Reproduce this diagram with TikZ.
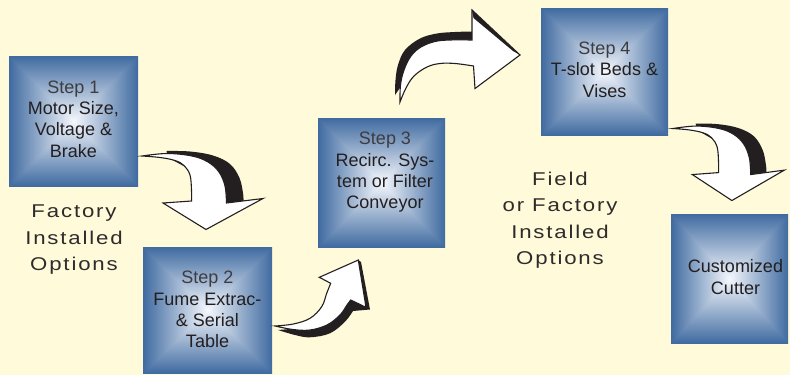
\documentclass[tikz,border=0pt]{standalone}
\usepackage{fontspec}
\setmainfont{Liberation Sans}
\newfontfamily\boxfont{Liberation Sans}
\newfontfamily\widefont[FakeStretch=1.2,LetterSpace=10]{Liberation Sans}
\definecolor{bgcream}{RGB}{255,250,217}
\definecolor{inkblack}{RGB}{35,31,32}
\definecolor{boxtext}{RGB}{35,31,32}
\definecolor{steptext}{RGB}{62,60,62}
\definecolor{labeltext}{RGB}{45,43,44}
\pgfdeclarefunctionalshading{pyramid}{\pgfpoint{-50bp}{-50bp}}{\pgfpoint{50bp}{50bp}}{}{
abs exch abs 2 copy lt {exch} if pop 25 div dup 1 gt {pop 1} if
dup dup -0.71 mul 0.96 add 3 1 roll -0.55 mul 0.97 add exch -0.36 mul 0.99 add
}
\tikzset{
  stepbox/.style={shade, shading=pyramid, draw=none, inner sep=0pt, outer sep=0pt},
  boxlabel/.style={align=center, text=boxtext, inner sep=0pt, font=\boxfont\fontsize{18}{21.3}\selectfont},
  sidelabel/.style={align=center, text=labeltext, inner sep=0pt, font=\widefont\fontsize{18.5}{26.5}\selectfont},
  arrowshadow/.style={fill=inkblack},
  arrowbody/.style={fill=white, draw=inkblack, line width=1.1pt, line join=miter},
  pics/bendarrow/.style={code={
    \fill[arrowshadow] plot[smooth,tension=0.6] coordinates {(24.7,-5) (48,-4.5) (71,-0.5) (88,8) (97.5,22) (101,37) (101.5,45)} -- (84,47) -- (60,20) -- (25,1) -- cycle;
    \filldraw[arrowbody] plot[smooth,tension=0.6] coordinates {(0,0) (25,-2.5) (50,0) (66,6) (77,16) (83,30) (84.5,47)} -- (121,42.5) -- (64,73.5) -- (21,47) -- plot[smooth,tension=0.6] coordinates {(49.5,45) (49.5,34) (48,19) (42,9.5) (33,4.5) (18,1.5) (0,0)} -- cycle;
  }}
}
\newcommand{\stepword}[1]{\textcolor{steptext}{#1}}
\begin{document}
\begin{tikzpicture}[x=1pt,y=-1pt]
\useasboundingbox (0,0) rectangle (790,375);
\fill[bgcream] (0,0) rectangle (790,375);

% boxes
\node[stepbox, minimum width=129pt, minimum height=130pt] (s1) at (73.5,121) {};
\node[stepbox, minimum width=129pt, minimum height=126pt] (s2) at (207.5,310) {};
\node[stepbox, minimum width=127pt, minimum height=129pt] (s3) at (381.5,182.5) {};
\node[stepbox, minimum width=127pt, minimum height=127pt] (s4) at (604.5,71.5) {};
\node[stepbox, minimum width=117pt, minimum height=129pt] (s5) at (729.5,278.5) {};

% curved arrows
\pic (a1) at (142,156) {bendarrow};
\pic[xscale=0.92, yscale=0.98] (a5) at (673,128.5) {bendarrow};

% box 2 -> box 3
\fill[arrowshadow] plot[smooth,tension=0.6] coordinates {(278,330) (295,335) (310,337.3) (330,333.3) (345,321.7) (353,311)} -- (370,309.5) -- (361,262) -- (358.3,260) -- (345,290) -- (320,320) -- (290,329) -- cycle;
\filldraw[arrowbody] plot[smooth,tension=0.6] coordinates {(275,326) (293,329.5) (310,330) (327,325) (340,315) (347,305) (350.7,300)} -- (366,307.3) -- (358.3,260) -- (319.3,277.3) -- plot[smooth,tension=0.6] coordinates {(330.7,283.3) (326.7,293.3) (321.7,306.7) (310,318.3) (293.3,324) (275,326)} -- cycle;

% box 3 -> box 4
\fill[arrowshadow] plot[smooth,tension=0.6] coordinates {(395,95) (395.5,80) (398,65) (405,50) (420,38.5) (437,33.5) (455,32) (472,31.5)} -- (472,45) -- (440,47) -- (420,53) -- (409,65) -- (402,85) -- cycle;
\filldraw[arrowbody] plot[smooth,tension=0.6] coordinates {(400,102) (400.5,85) (404,70) (411,56) (421,47) (435,41.5) (450,40) (472,40)} -- (472,10) -- (520,55) -- (475,88.5) -- plot[smooth,tension=0.6] coordinates {(473.5,66) (455,63.5) (440,63.5) (427,67) (414,76) (406,88) (400,102)} -- cycle;
\fill[arrowshadow] (472,10) -- (520,55) -- (513,51) -- (473.5,18) -- cycle;

% box texts
\node[boxlabel] (t1) at (73.5,118.9) {\stepword{Step 1}\\Motor Size,\\Voltage \&\\Brake};
\node[boxlabel] (t2) at (207.5,309.5) {\stepword{Step 2}\\Fume Extrac-\\\& Serial\\Table};
\node[boxlabel] (t3) at (385,172.5) {\stepword{Step 3}\\Recirc. Sys-\\tem or Filter\\Conveyor};
\node[boxlabel] (t4) at (604.5,69.6) {\stepword{Step 4}\\T-slot Beds \&\\Vises};
\node[boxlabel] (t5) at (735.5,277.1) {Customized\\Cutter};

% side labels
\node[sidelabel] (f1) at (74,240) {Factory\\Installed\\Options};
\node[sidelabel] (f2) at (560,220) {Field\\or Factory\\Installed\\Options};
\end{tikzpicture}
\end{document}
